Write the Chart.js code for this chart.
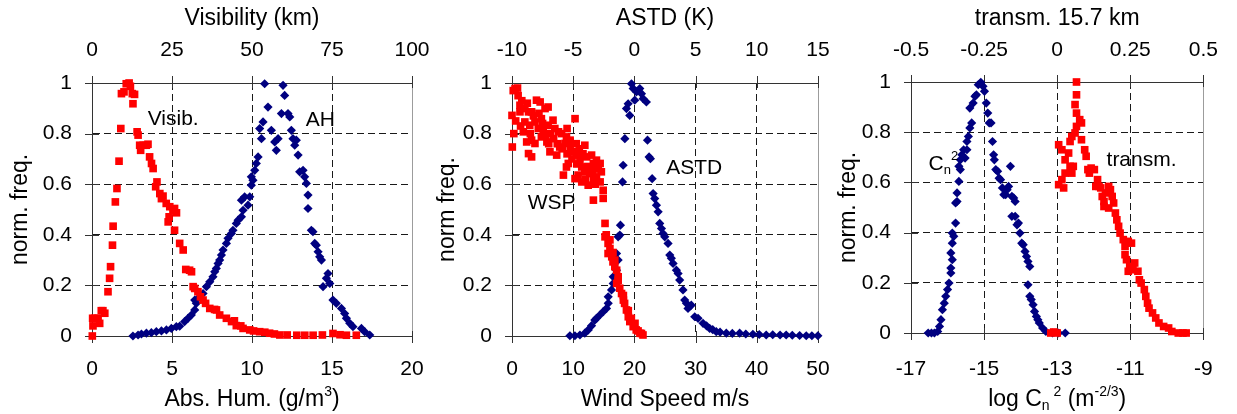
<!DOCTYPE html>
<html>
<head>
<meta charset="utf-8">
<script src="https://cdn.jsdelivr.net/npm/chart.js@4.4.1/dist/chart.umd.min.js"></script>
<style>
html,body{margin:0;padding:0;background:#fff;width:1237px;height:414px;overflow:hidden}
canvas{position:absolute;left:0;top:0}
</style>
</head>
<body>
<canvas id="c1" width="1237" height="414"></canvas>
<canvas id="c2" width="1237" height="414"></canvas>
<canvas id="c3" width="1237" height="414"></canvas>
<script>
const F = "'Liberation Sans', Arial, Helvetica, sans-serif";

// ---------- tick labels ----------
const yTicks = [0, 0.2, 0.4, 0.6, 0.8, 1];
const ahTicks = [0, 5, 10, 15, 20];
const visTicks = [0, 25, 50, 75, 100];
const wspTicks = [0, 10, 20, 30, 40, 50];
const astdTicks = [-10, -5, 0, 5, 10, 15];
const cn2Ticks = [-17, -15, -13, -11, -9];
const transTicks = [-0.5, -0.25, 0, 0.25, 0.5];

// ---------- series: [x value, normalised frequency] ----------
// Visibility (km), red squares, panel 1 (top axis)
const visibData = [[0.1,0.0],[0.3,0.04],[0.2,0.07],[0.8,0.07],[1.9,0.07],[2.4,0.05],[2.9,0.10],[3.4,0.10],[4.0,0.09],[5.0,0.175],[5.5,0.228],[5.8,0.274],[6.4,0.359],[6.6,0.434],[7.3,0.53],[7.8,0.583],[8.45,0.691],[9.0,0.82],[9.2,0.958],[10.0,0.965],[10.7,0.997],[11.6,1.0],[12.0,0.987],[12.6,0.958],[12.8,0.918],[13.3,0.955],[14.1,0.807],[14.4,0.794],[14.9,0.754],[15.2,0.734],[16.0,0.754],[17.0,0.754],[17.5,0.758],[18.0,0.708],[18.6,0.682],[19.1,0.662],[20.3,0.609],[19.9,0.59],[21.2,0.563],[21.7,0.543],[22.2,0.553],[23.2,0.524],[24.3,0.511],[25.3,0.497],[25.8,0.504],[23.8,0.451],[24.1,0.471],[26.4,0.487],[25.8,0.418],[27.4,0.366],[28.5,0.34],[29.3,0.263],[30.5,0.26],[31.1,0.254],[31.6,0.195],[32.1,0.188],[33.1,0.175],[33.9,0.155],[34.7,0.142],[35.5,0.129],[36.8,0.109],[38.3,0.105],[38.9,0.103],[39.9,0.083],[42.0,0.07],[43.6,0.057],[44.5,0.06],[45.1,0.041],[46.5,0.04],[47.2,0.03],[49.3,0.024],[50.5,0.02],[52.4,0.017],[54.0,0.015],[55.5,0.011],[57.0,0.008],[58.7,0.004],[61.0,0.004],[64.0,0.003],[66.5,0.003],[69.1,0.003],[72.0,0.004],[75.3,0.01],[77.5,0.005],[79.5,0.003],[82.6,0.003]];
// Absolute humidity (g/m3), blue diamonds, panel 1 (bottom axis)
const ahData = [[2.56,0.0],[2.88,0.004],[3.09,0.008],[3.40,0.011],[3.71,0.013],[4.02,0.017],[4.34,0.02],[4.65,0.024],[4.96,0.03],[5.27,0.037],[5.48,0.039],[5.79,0.057],[6.0,0.07],[6.21,0.083],[6.42,0.103],[6.52,0.129],[6.42,0.142],[6.73,0.155],[6.94,0.168],[7.15,0.195],[7.36,0.214],[7.56,0.234],[7.67,0.254],[7.77,0.267],[7.88,0.287],[7.98,0.30],[8.09,0.32],[8.19,0.34],[8.40,0.366],[8.50,0.386],[8.71,0.405],[8.81,0.418],[9.02,0.445],[9.13,0.458],[9.34,0.471],[9.44,0.497],[9.34,0.537],[9.54,0.55],[9.75,0.517],[9.86,0.55],[9.96,0.596],[10.06,0.616],[9.96,0.629],[10.17,0.655],[10.27,0.682],[10.38,0.708],[10.59,0.78],[10.48,0.82],[10.69,0.846],[10.79,0.997],[11.0,0.905],[11.21,0.813],[11.42,0.767],[11.52,0.734],[11.63,0.78],[11.84,0.879],[11.94,0.991],[12.04,0.951],[12.25,0.879],[12.36,0.866],[12.46,0.813],[12.56,0.78],[12.67,0.754],[12.77,0.774],[12.88,0.715],[12.98,0.649],[13.19,0.655],[13.29,0.629],[13.40,0.603],[13.50,0.557],[13.50,0.504],[13.71,0.418],[13.81,0.412],[13.92,0.366],[14.02,0.359],[14.13,0.333],[14.23,0.313],[14.34,0.30],[14.44,0.195],[14.65,0.228],[14.75,0.247],[14.86,0.208],[15.06,0.142],[15.27,0.129],[15.59,0.109],[15.79,0.089],[15.90,0.07],[16.11,0.05],[16.31,0.037],[16.84,0.03],[17.04,0.017],[17.36,0.004]];
// Wind speed (m/s), red squares, panel 2 (bottom axis)
const wspData = [[0.5,0.978],[0.9,0.98],[0.2,0.97],[0.0,0.872],[1.3,0.912],[1.3,0.886],[2.1,0.899],[2.7,0.886],[3.2,0.886],[4.0,0.932],[4.6,0.925],[5.4,0.899],[5.9,0.905],[4.8,0.859],[3.75,0.846],[2.1,0.846],[2.9,0.833],[4.3,0.82],[5.1,0.813],[5.9,0.833],[6.7,0.853],[7.0,0.82],[7.6,0.807],[8.1,0.80],[8.9,0.787],[9.5,0.774],[10.3,0.859],[1.85,0.807],[2.4,0.767],[3.2,0.774],[3.75,0.761],[4.8,0.787],[5.7,0.767],[6.2,0.728],[7.3,0.715],[7.8,0.747],[8.65,0.761],[9.5,0.747],[10.0,0.728],[10.55,0.715],[11.1,0.695],[11.9,0.754],[11.4,0.668],[12.2,0.708],[13.0,0.715],[13.3,0.682],[13.8,0.695],[14.4,0.682],[14.6,0.649],[13.5,0.662],[12.7,0.642],[11.9,0.649],[10.8,0.636],[10.3,0.622],[11.4,0.609],[12.45,0.596],[13.3,0.616],[13.8,0.629],[14.4,0.609],[8.4,0.636],[9.2,0.682],[8.9,0.668],[2.7,0.721],[3.2,0.708],[0.05,0.747],[14.9,0.576],[14.9,0.544],[13.3,0.537],[1.0,0.95],[1.6,0.93],[2.5,0.92],[3.5,0.87],[4.4,0.88],[5.0,0.84],[6.3,0.80],[6.8,0.78],[7.4,0.76],[8.2,0.74],[9.0,0.72],[9.8,0.70],[10.6,0.68],[11.6,0.72],[12.4,0.67],[13.1,0.65],[13.6,0.60],[12.0,0.62],[14.1,0.66],[1.4,0.83],[0.6,0.85],[0.3,0.80],[3.0,0.80],[5.5,0.79],[6.0,0.76],[9.0,0.82],[10.5,0.76],[11.0,0.74],[15.2,0.445],[15.2,0.392],[15.4,0.40],[15.7,0.366],[16.0,0.346],[15.7,0.326],[16.3,0.313],[16.0,0.38],[16.5,0.33],[16.5,0.293],[16.8,0.274],[16.8,0.30],[17.1,0.26],[17.35,0.234],[17.35,0.22],[17.1,0.208],[17.6,0.189],[17.9,0.168],[18.2,0.16],[18.2,0.142],[18.4,0.129],[18.7,0.103],[19.0,0.10],[19.0,0.076],[19.25,0.057],[19.5,0.07],[19.8,0.037],[20.1,0.05],[20.3,0.024],[20.6,0.02],[20.9,0.011],[21.15,0.01],[21.4,0.004]];
// Air-sea temperature difference (K), blue diamonds, panel 2 (top axis)
const astdData = [[-5.27,0.001],[-4.86,0.001],[-4.45,0.004],[-4.05,0.011],[-3.77,0.024],[-3.5,0.041],[-3.23,0.063],[-3.09,0.07],[-2.82,0.083],[-2.55,0.096],[-2.28,0.109],[-2.14,0.129],[-2.14,0.155],[-1.87,0.182],[-1.73,0.208],[-1.73,0.234],[-1.46,0.26],[-1.46,0.326],[-1.33,0.30],[-1.6,0.326],[-1.33,0.392],[-1.19,0.399],[-1.14,0.438],[-0.97,0.609],[-0.92,0.675],[-0.78,0.78],[-0.65,0.899],[-0.51,0.918],[-0.38,0.872],[-0.24,0.997],[-0.1,0.978],[0.03,0.932],[0.17,0.965],[0.44,0.978],[0.58,0.958],[0.71,0.938],[0.98,0.925],[1.07,0.774],[1.2,0.708],[1.31,0.701],[1.45,0.622],[1.53,0.563],[1.66,0.543],[1.8,0.517],[1.94,0.491],[2.07,0.445],[2.21,0.425],[2.34,0.405],[2.48,0.392],[2.75,0.366],[2.89,0.32],[3.02,0.307],[3.16,0.287],[3.43,0.26],[3.57,0.247],[3.7,0.221],[3.97,0.182],[4.11,0.142],[4.25,0.129],[4.38,0.109],[4.65,0.122],[4.93,0.076],[5.2,0.07],[5.61,0.05],[5.9,0.04],[6.15,0.03],[6.4,0.025],[6.69,0.017],[7.0,0.015],[7.51,0.011],[8.0,0.01],[8.6,0.011],[9.1,0.008],[9.68,0.007],[10.2,0.006],[10.77,0.004],[11.3,0.005],[11.9,0.004],[12.4,0.004],[12.9,0.003],[13.5,0.002],[14.04,0.001],[14.5,0.001],[14.99,0.001]];
// log Cn2, blue diamonds, panel 3 (bottom axis)
const cn2Data = [[-16.53,0.0],[-16.44,0.0],[-16.36,0.0],[-16.27,0.006],[-16.22,0.026],[-16.18,0.053],[-16.14,0.093],[-16.09,0.119],[-16.05,0.146],[-16.0,0.173],[-15.96,0.199],[-15.91,0.239],[-15.91,0.259],[-15.87,0.292],[-15.91,0.319],[-15.87,0.358],[-15.83,0.385],[-15.87,0.398],[-15.78,0.438],[-15.78,0.518],[-15.74,0.524],[-15.74,0.558],[-15.69,0.604],[-15.65,0.651],[-15.69,0.664],[-15.65,0.69],[-15.61,0.71],[-15.56,0.73],[-15.52,0.697],[-15.47,0.73],[-15.47,0.763],[-15.43,0.783],[-15.39,0.817],[-15.34,0.837],[-15.39,0.896],[-15.3,0.916],[-15.25,0.943],[-15.21,0.949],[-15.16,0.989],[-15.09,0.999],[-15.03,0.983],[-14.99,0.963],[-14.94,0.916],[-14.9,0.876],[-14.86,0.837],[-14.81,0.837],[-14.77,0.763],[-14.74,0.71],[-14.72,0.69],[-14.68,0.651],[-14.63,0.644],[-14.59,0.617],[-14.55,0.611],[-14.5,0.578],[-14.46,0.551],[-14.41,0.551],[-14.37,0.571],[-14.33,0.584],[-14.28,0.664],[-14.24,0.544],[-14.19,0.538],[-14.15,0.524],[-14.24,0.465],[-14.15,0.465],[-14.1,0.431],[-14.06,0.438],[-14.02,0.398],[-13.97,0.358],[-13.93,0.352],[-13.88,0.325],[-13.84,0.305],[-13.8,0.285],[-13.75,0.265],[-13.8,0.192],[-13.75,0.146],[-13.71,0.133],[-13.66,0.113],[-13.62,0.086],[-13.57,0.066],[-13.53,0.053],[-13.49,0.04],[-13.4,0.02],[-13.31,0.006],[-13.13,0.0],[-12.96,0.0],[-12.78,0.0]];
// Transmission over 15.7 km, red squares, panel 3 (top axis)
const transData = [[-0.022,0.0],[-0.012,0.004],[0.0,0.0],[0.005,0.75],[0.016,0.73],[0.027,0.69],[0.039,0.717],[0.044,0.664],[0.027,0.637],[0.016,0.611],[0.005,0.591],[0.022,0.578],[0.05,0.637],[0.055,0.664],[0.044,0.763],[0.05,0.783],[0.061,0.797],[0.066,0.823],[0.077,0.85],[0.066,0.876],[0.061,0.91],[0.066,0.949],[0.066,1.0],[0.083,0.837],[0.083,0.77],[0.094,0.73],[0.099,0.704],[0.105,0.651],[0.11,0.637],[0.116,0.657],[0.127,0.651],[0.138,0.611],[0.143,0.584],[0.132,0.584],[0.149,0.578],[0.154,0.544],[0.16,0.524],[0.165,0.558],[0.176,0.584],[0.182,0.571],[0.188,0.544],[0.193,0.518],[0.16,0.504],[0.176,0.498],[0.199,0.478],[0.204,0.451],[0.21,0.425],[0.215,0.398],[0.226,0.372],[0.232,0.345],[0.243,0.365],[0.254,0.358],[0.232,0.312],[0.237,0.292],[0.248,0.265],[0.243,0.246],[0.259,0.252],[0.265,0.279],[0.276,0.246],[0.281,0.212],[0.287,0.199],[0.298,0.173],[0.303,0.146],[0.309,0.119],[0.314,0.099],[0.326,0.08],[0.337,0.06],[0.348,0.04],[0.364,0.026],[0.381,0.02],[0.392,0.006],[0.414,0.0],[0.43,0.0],[0.441,0.0]];

// ---------- helpers ----------
const RED = '#ff0000', BLUE = '#000080', AXIS = '#333333', GRID = '#1a1a1a';
const toPts = a => a.map(p => ({x: p[0], y: p[1]}));
const fixTicks = arr => s => { s.ticks = arr.map(v => ({value: v})); };
const lbl = v => String(v);

function redSet(data, axis) {
  return {data: toPts(data), xAxisID: axis, yAxisID: 'y', pointStyle: 'rect', pointRadius: 5.4,
    backgroundColor: RED, borderColor: RED, borderWidth: 0, showLine: false, clip: false};
}
function blueSet(data, axis) {
  return {data: toPts(data), xAxisID: axis, yAxisID: 'y', pointStyle: 'rectRot', pointRadius: 4.6,
    backgroundColor: BLUE, borderColor: BLUE, borderWidth: 0, showLine: false, clip: false};
}

function drawRich(ctx, segs, x, baseY, size, align) {
  const small = Math.round(size * 0.62);
  let w = 0;
  segs.forEach(s => {
    ctx.font = ((s.sub || s.sup) ? small : size) + 'px ' + F;
    s.w = ctx.measureText(s.t).width; w += s.w;
  });
  let cx = align === 'center' ? x - w / 2 : x;
  ctx.textAlign = 'left'; ctx.textBaseline = 'alphabetic'; ctx.fillStyle = '#000';
  segs.forEach(s => {
    ctx.font = ((s.sub || s.sup) ? small : size) + 'px ' + F;
    const dy = s.sup ? -size * 0.45 : (s.sub ? size * 0.18 : 0);
    ctx.fillText(s.t, cx, baseY + dy);
    cx += s.w;
  });
}

function framePlugin(P) {
  return {
    id: 'frame',
    beforeDatasetsDraw(chart) {
      const {ctx, chartArea: a, scales} = chart;
      ctx.save();
      const rx = Math.round(a.right) + 0.5;
      ctx.strokeStyle = '#9c9c9c'; ctx.lineWidth = 1;
      ctx.beginPath(); ctx.moveTo(rx, a.top); ctx.lineTo(rx, a.bottom); ctx.stroke();
      ctx.strokeStyle = AXIS;
      ctx.beginPath();
      scales.y.ticks.forEach(t => {
        const y = Math.round(scales.y.getPixelForValue(t.value)) + 0.5;
        ctx.moveTo(a.left - 7, y); ctx.lineTo(a.left + 7, y);
      });
      scales.x.ticks.forEach(t => {
        const x = Math.round(scales.x.getPixelForValue(t.value)) + 0.5;
        ctx.moveTo(x, a.bottom - 5); ctx.lineTo(x, a.bottom + 7);
      });
      scales.x2.ticks.forEach(t => {
        const x = Math.round(scales.x2.getPixelForValue(t.value)) + 0.5;
        ctx.moveTo(x, a.top - 7); ctx.lineTo(x, a.top + 5);
      });
      ctx.stroke();
      ctx.restore();
    },
    afterDraw(chart) {
      const {ctx, chartArea: a, scales} = chart;
      ctx.save();
      P.labels.forEach(L => {
        const sx = scales[L.axis];
        const px = sx.getPixelForValue(L.x);
        const py = scales.y.getPixelForValue(L.y);
        drawRich(ctx, L.segs.map(s => Object.assign({}, s)), px, py + 7.5, 21, 'left');
      });
      drawRich(ctx, P.bottomTitle.map(s => Object.assign({}, s)), (a.left + a.right) / 2, chart.height - 8, 23, 'center');
      ctx.restore();
    }
  };
}

function panel(id, P) {
  const tickFont = {family: F, size: 21};
  const titleFont = {family: F, size: 23};
  const edgeless = (min, max) => c => (c.tick && (c.tick.value === min || c.tick.value === max)) ? 'rgba(0,0,0,0)' : GRID;
  return new Chart(document.getElementById(id), {
    type: 'scatter',
    data: {datasets: P.datasets},
    options: {
      responsive: false, animation: false, events: [],
      layout: {padding: {left: P.boxLeft, right: 1237 - P.right, top: 0, bottom: 0}},
      plugins: {legend: {display: false}, tooltip: {enabled: false}},
      scales: {
        x: {
          type: 'linear', axis: 'x', position: 'bottom', min: P.bx[0], max: P.bx[P.bx.length - 1],
          afterBuildTicks: fixTicks(P.bx),
          afterFit: s => { s.height = 414 - P.bottom; },
          ticks: {callback: lbl, font: tickFont, color: '#000', padding: P.bottomPad, autoSkip: false, maxRotation: 0},
          grid: {drawTicks: false, color: edgeless(P.bx[0], P.bx[P.bx.length - 1]), lineWidth: 1},
          border: {display: true, color: AXIS, width: 1, dash: [7, 4]}
        },
        x2: {
          type: 'linear', axis: 'x', position: 'top', min: P.tx[0], max: P.tx[P.tx.length - 1],
          afterBuildTicks: fixTicks(P.tx),
          afterFit: s => { s.height = P.top; },
          ticks: {callback: lbl, font: tickFont, color: '#000', padding: P.topPad, autoSkip: false, maxRotation: 0},
          grid: {display: false, drawTicks: false},
          border: {display: true, color: AXIS, width: 1},
          title: {display: true, text: P.topTitle, font: titleFont, color: '#000', padding: {top: 5, bottom: 0}}
        },
        y: {
          type: 'linear', position: 'left', min: 0, max: 1,
          afterBuildTicks: fixTicks(yTicks),
          afterFit: s => { s.width = P.left - P.boxLeft; },
          ticks: {callback: lbl, font: tickFont, color: '#000', padding: 20},
          grid: {drawTicks: false, color: edgeless(0, 1), lineWidth: 1},
          border: {display: true, color: AXIS, width: 1, dash: [7, 4]},
          title: {display: true, text: P.yTitle, font: titleFont, color: '#000', padding: {top: 0, bottom: 0}}
        }
      }
    },
    plugins: [framePlugin(P)]
  });
}

Chart.defaults.font.family = F;

panel('c1', {
  boxLeft: 7, left: 92, right: 412, top: 83, bottom: 336, bottomPad: 21, topPad: 20,
  bx: ahTicks, tx: visTicks, yTitle: 'norm. freq.', topTitle: 'Visibility (km)',
  bottomTitle: [{t: 'Abs. Hum. (g/m'}, {t: '3', sup: true}, {t: ')'}],
  datasets: [redSet(visibData, 'x2'), blueSet(ahData, 'x')],
  labels: [
    {axis: 'x', x: 3.48, y: 0.865, segs: [{t: 'Visib.'}]},
    {axis: 'x', x: 13.36, y: 0.859, segs: [{t: 'AH'}]}
  ]
});

panel('c2', {
  boxLeft: 434, left: 512, right: 818, top: 83, bottom: 336, bottomPad: 21, topPad: 20,
  bx: wspTicks, tx: astdTicks, yTitle: 'norm freq.', topTitle: 'ASTD (K)',
  bottomTitle: [{t: 'Wind Speed m/s'}],
  datasets: [redSet(wspData, 'x'), blueSet(astdData, 'x2')],
  labels: [
    {axis: 'x', x: 2.56, y: 0.533, segs: [{t: 'WSP'}]},
    {axis: 'x', x: 25.2, y: 0.669, segs: [{t: 'ASTD'}]}
  ]
});

panel('c3', {
  boxLeft: 835, left: 911, right: 1213, top: 82, bottom: 333, bottomPad: 24, topPad: 19,
  bx: cn2Ticks, tx: transTicks, yTitle: 'norm. freq.', topTitle: 'transm. 15.7 km',
  bottomTitle: [{t: 'log C'}, {t: 'n', sub: true}, {t: ' 2', sup: true}, {t: ' (m'}, {t: '-2/3', sup: true}, {t: ')'}],
  datasets: [redSet(transData, 'x2'), blueSet(cn2Data, 'x')],
  labels: [
    {axis: 'x', x: -16.52, y: 0.68, segs: [{t: 'C'}, {t: 'n', sub: true}, {t: '2', sup: true}]},
    {axis: 'x', x: -11.65, y: 0.697, segs: [{t: 'transm.'}]}
  ]
});
</script>
</body>
</html>
